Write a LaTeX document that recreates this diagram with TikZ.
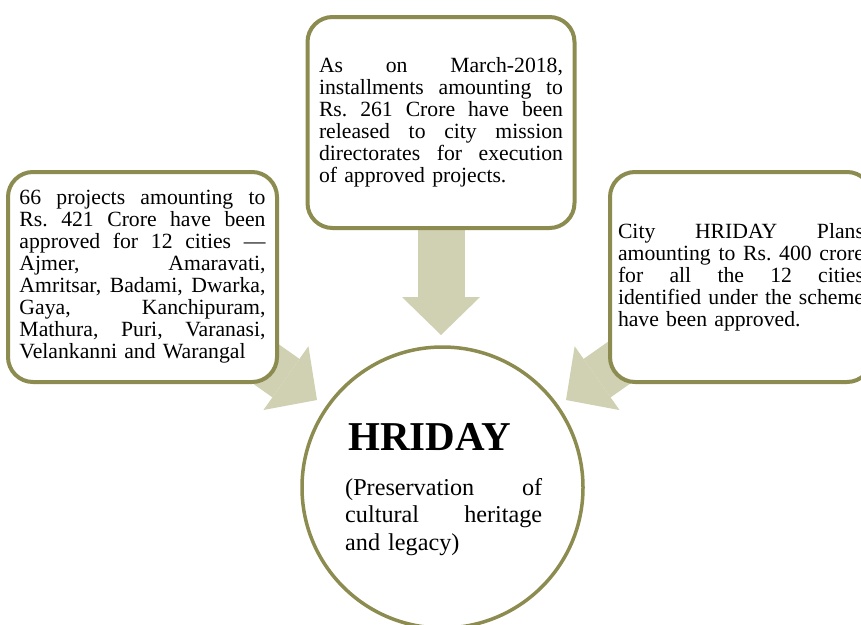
\documentclass[tikz,border=0pt]{standalone}
\usepackage{fontspec}
\setmainfont{Liberation Serif}
\usetikzlibrary{arrows.meta}
\pgfdeclarelayer{bg}
\pgfsetlayers{bg,main}
\definecolor{olivebd}{HTML}{8C8C50}
\definecolor{arrowfill}{HTML}{D0D0B3}
\newlength\jlw
\newcommand\jl[1]{\noindent\hbox to \jlw{\spaceskip=\fontdimen2\font plus 1fil\xspaceskip=\spaceskip #1}\par}
\begin{document}
\begin{tikzpicture}[x=1pt,y=-1pt,
  infobox/.style={draw=olivebd, line width=4pt, fill=white, rounded corners=25pt,
    inner sep=0pt, align=left, font=\fontsize{21.7}{22}\selectfont},
  blockarrow/.style={draw=arrowfill, line width=47pt,
    -{Triangle[width=78pt,length=38pt,line width=0pt]}},
  hubcircle/.style={draw=olivebd, line width=3.5pt, fill=white, circle,
    minimum size=281pt, inner sep=0pt},
  plaintext/.style={inner sep=0pt, align=left}]
\useasboundingbox (0,0) rectangle (861,624);
\clip (0,0) rectangle (861,624);

\node[infobox, minimum width=267pt, minimum height=211pt, text width=244pt] (tbox) at (441,122.5)
  {\setlength\jlw{244pt}\jl{As on March-2018,}\jl{installments amounting to}\jl{Rs. 261 Crore have been}\jl{released to city mission}\jl{directorates for execution}of approved projects.};

\node[infobox, minimum width=269pt, minimum height=210pt, text width=246pt] (lbox) at (142.5,277)
  {\setlength\jlw{246pt}\jl{66 projects amounting to}\jl{Rs. 421 Crore have been}\jl{approved for 12 cities —}\jl{Ajmer, Amaravati,}\jl{Amritsar, Badami, Dwarka,}\jl{Gaya, Kanchipuram,}\jl{Mathura, Puri, Varanasi,}Velankanni and Warangal};

\node[infobox, minimum width=262pt, minimum height=210pt, text width=246pt] (rbox) at (741,277)
  {\setlength\jlw{246pt}\jl{City HRIDAY Plans}\jl{amounting to Rs. 400 crore}\jl{for all the 12 cities}\jl{identified under the scheme}have been approved.};

\node[hubcircle] (hub) at (442.5,487.5) {};
\node[plaintext, anchor=base west, font=\fontsize{41}{41}\selectfont\bfseries] (title) at (348,450) {HRIDAY};
\node[plaintext, anchor=base west, text width=197pt, font=\fontsize{24.2}{27.5}\selectfont] (sub) at (345,495)
  {\setlength\jlw{197pt}\jl{(Preservation of}\jl{cultural heritage}and legacy)};

\coordinate (tipT) at (441,335);
\coordinate (tipL) at (317,400);
\coordinate (tipR) at (566,400);
\begin{pgfonlayer}{bg}
\fill[white] (0,0) rectangle (861,624);
\draw[blockarrow] (tbox.center) -- (tipT);
\draw[blockarrow] (lbox.center) -- (tipL);
\draw[blockarrow] (rbox.center) -- (tipR);
\end{pgfonlayer}
\end{tikzpicture}
\end{document}
